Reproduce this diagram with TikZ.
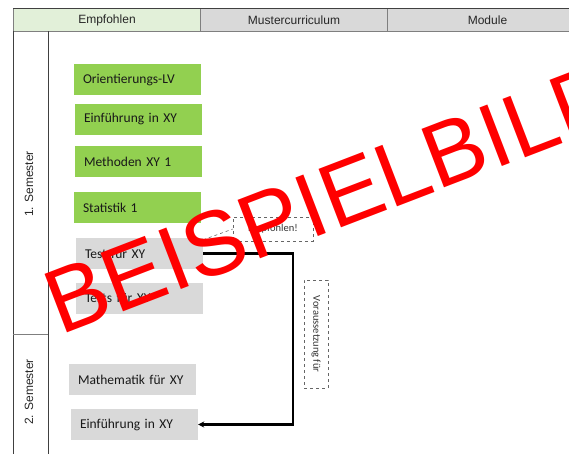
\documentclass[tikz,border=0pt]{standalone}
\usepackage{fontspec}
\setmainfont{Carlito}
\newfontfamily\arialf{Liberation Sans}
\usetikzlibrary{arrows.meta}
\definecolor{hdrgreen}{HTML}{E2F0D9}
\definecolor{hdrgray}{HTML}{D9D9D9}
\definecolor{boxgreen}{HTML}{92D050}
\definecolor{boxgray}{HTML}{D9D9D9}
\definecolor{linegray}{HTML}{7F7F7F}
\definecolor{darkline}{HTML}{404040}
\definecolor{stampred}{HTML}{FF0000}
\tikzset{
  hdrcell/.style={draw=linegray, line width=1pt, font=\arialf\fontsize{12}{14}\selectfont, text=black!85},
  modbox/.style={minimum width=127pt, minimum height=31pt, inner sep=0pt, text width=109pt, align=left, font=\fontsize{13.5}{15}\selectfont, text=black!90},
  greenbox/.style={modbox, fill=boxgreen},
  graybox/.style={modbox, fill=boxgray},
  sidelabel/.style={font=\arialf\fontsize{12}{14}\selectfont, rotate=90, text=black!85},
  notebox/.style={draw=black!60, dashed, line width=0.6pt, inner sep=0pt, font=\fontsize{10.5}{12}\selectfont, text=black!80},
  arr/.style={line width=2.2pt, -{Stealth[length=6pt,width=6pt]}},
}
\begin{document}
\begin{tikzpicture}[x=1pt,y=-1pt]
\useasboundingbox (0,0) rectangle (569,453);
% header
\node[hdrcell, fill=hdrgreen, minimum width=187pt, minimum height=23pt, anchor=north west] (h1) at (13,8) {Empfohlen};
\node[hdrcell, fill=hdrgray, minimum width=187pt, minimum height=23pt, anchor=north west] (h2) at (200,8) {Mustercurriculum};
\node[hdrcell, fill=hdrgray, minimum width=200pt, minimum height=23pt, anchor=north west] (h3) at (387,8) {Module};
\draw[darkline, line width=1pt] (13,8) -- (600,8);
% table lines
\draw[darkline, line width=0.8pt] (13,31) -- (13,460);
\draw[darkline, line width=0.8pt] (48,31) -- (48,460);
\draw[linegray, line width=0.8pt] (13,334) -- (48,334);
% side labels
\node[sidelabel] (s1) at (29,184) {1. Semester};
\node[sidelabel] (s2) at (29,392) {2. Semester};
% module boxes
\node[greenbox] (o1) at (137.5,79.5) {Orientierungs-LV};
\node[greenbox] (e1) at (138.5,119) {Einführung in XY};
\node[greenbox] (m1) at (138.5,161.5) {Methoden XY 1};
\node[greenbox] (st) at (137.5,207.5) {Statistik 1};
\node[graybox] (t1) at (139.5,253.5) {Test für XY};
\node[graybox] (t2) at (139.5,298) {Tests für XY};
\node[graybox] (ma) at (132.5,379.5) {Mathematik für XY};
\node[graybox] (e2) at (134.5,424.5) {Einführung in XY};
% notes
\node[notebox, minimum width=80pt, minimum height=24pt] (emp) at (273,229) {Empfohlen!};
\node[notebox, minimum width=24pt, minimum height=108pt] (vor) at (316,334) {\rotatebox{-90}{Voraussetzung für}};
\draw[black!60, dashed, line width=0.6pt] (t1.north east) ++(0,2) -- (emp.west);
% connector
\coordinate (bend) at (293,424.5);
\draw[arr] (t1.east) -| (bend) -- (e2.east);
% stamp
\node[anchor=base west, rotate=21, inner sep=0pt, text=stampred, font=\arialf\fontsize{91}{91}\selectfont] (stamp) at (60,336) {BEISPIELBILD};
\end{tikzpicture}
\end{document}
